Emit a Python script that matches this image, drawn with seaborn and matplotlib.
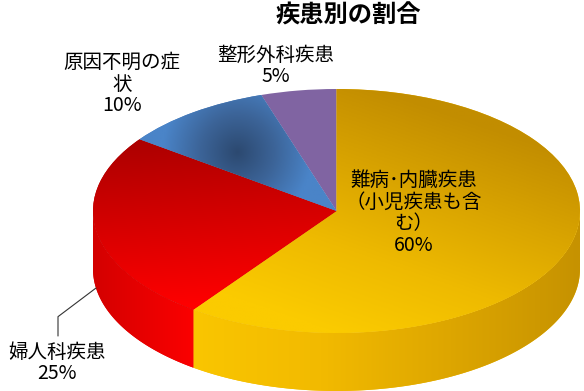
import numpy as np
import matplotlib
matplotlib.use("Agg")
import matplotlib.pyplot as plt
from matplotlib.colors import LinearSegmentedColormap
from matplotlib.patches import Polygon
import seaborn as sns

# ---- data ----
title = "疾患別の割合"
categories = ["難病･内臓疾患\n（小児疾患も含\nむ）", "婦人科疾患", "原因不明の症\n状", "整形外科疾患"]
values = [60, 25, 10, 5]
pct_labels = ["60%", "25%", "10%", "5%"]

sns.set_theme(style="white")
plt.rcParams["font.family"] = ["Noto Sans CJK JP", "DejaVu Sans"]

W, H = 584, 391
fig = plt.figure(figsize=(W / 100, H / 100), dpi=100, facecolor="white")
CX, CY, RX, RY = 336.5, 211, 243.5, 122   # pie placement in pixels
DEPTH = 0.475
ax = fig.add_axes([0, 0, 1, 1])

top_cols = ["#F0BA00", "#B00000", "#4A7FC0", "#8064A2"]
wedges, _ = ax.pie(values, startangle=90, counterclock=False, radius=1,
                   center=(0, 0), colors=top_cols,
                   wedgeprops=dict(linewidth=0))
for w in wedges:
    w.set_zorder(2)


def grad(patch, colors, func, extent, z):
    xs = np.linspace(extent[0], extent[1], 300)
    ys = np.linspace(extent[2], extent[3], 300)
    X, Y = np.meshgrid(xs, ys)
    Z = np.clip(func(X, Y), 0, 1)
    cmap = LinearSegmentedColormap.from_list("g", colors)
    im = ax.imshow(Z, extent=extent, origin="lower", cmap=cmap, vmin=0, vmax=1,
                   aspect="auto", zorder=z, interpolation="bilinear")
    im.set_clip_path(patch)


full = [-1.05, 1.05, -1.6, 1.05]
# top-face gradients
grad(wedges[0], ["#FBCB00", "#EEBA00", "#D9A400", "#C28D00"],
     lambda x, y: (x * 0.55 + y * 0.8 + 0.8) / 1.7, full, 2.1)
grad(wedges[1], ["#A00000", "#D00000", "#FF0000"],
     lambda x, y: (0.75 - y + 0.15 * (x + 1)) / 1.6, full, 2.1)
grad(wedges[2], ["#2C4970", "#3C6498", "#4A84C8"],
     lambda x, y: np.sqrt(((x + 0.41) * RX) ** 2 + ((y - 0.48) * RY) ** 2) / 75,
     full, 2.1)

# side faces (visible front half)
frac = np.array(values) / sum(values)
cum = np.concatenate([[0], np.cumsum(frac)])
side_grads = [
    (["#FAC600", "#F2BA00", "#DDA600", "#C69200"], lambda x, y: (x + 0.6) / 1.6),
    (["#D40000", "#E80000", "#FC0000"], lambda x, y: (x + 1) / 0.42),
    (["#2C4970", "#4A84C8"], lambda x, y: x * 0 + 0.5),
    (["#6A5090", "#8064A2"], lambda x, y: x * 0 + 0.5),
]
for i in range(len(values)):
    t0 = 90 - cum[i + 1] * 360
    t1 = 90 - cum[i] * 360
    for shift in (-360, 0, 360):
        a = max(t0 + shift, -180)
        b = min(t1 + shift, 0)
        if b > a:
            t = np.radians(np.linspace(a, b, 200))
            xs, ys = np.cos(t), np.sin(t)
            pts = np.concatenate([np.column_stack([xs, ys]),
                                  np.column_stack([xs[::-1], ys[::-1] - DEPTH])])
            poly = Polygon(pts, closed=True, facecolor=side_grads[i][0][1],
                           edgecolor="none", zorder=1)
            ax.add_patch(poly)
            grad(poly, side_grads[i][0], side_grads[i][1], full, 1.1)

ax.set_aspect("auto")
ax.set_xlim(-CX / RX, (W - CX) / RX)
ax.set_ylim(-(H - CY) / RY, CY / RY)
ax.axis("off")


def fp(x, y):
    return x / W, 1 - y / H


fig.text(*fp(348, 16), title, ha="center", va="center", fontsize=17.5,
         fontweight="bold", color="black")

label_pos = [(414, 213), (57, 363), (122, 84), (276, 66)]
for cat, pct, (lx, ly) in zip(categories, pct_labels, label_pos):
    fig.text(*fp(lx, ly), cat + "\n" + pct, ha="center", va="center",
             multialignment="center", fontsize=14, linespacing=1.05,
             color="black")

# leader line for the 婦人科疾患 label
mid = np.radians(90 - (cum[1] + cum[2]) / 2 * 360)
ax.annotate("", xy=(np.cos(mid), np.sin(mid) - DEPTH), xycoords="data",
            xytext=(58, H - 336), textcoords="figure pixels",
            arrowprops=dict(arrowstyle="-", color="#333333", lw=0.8,
                            shrinkA=0, shrinkB=0,
                            connectionstyle="angle,angleA=90,angleB=37,rad=0"))

fig.savefig("out.png", dpi=100, facecolor="white")
